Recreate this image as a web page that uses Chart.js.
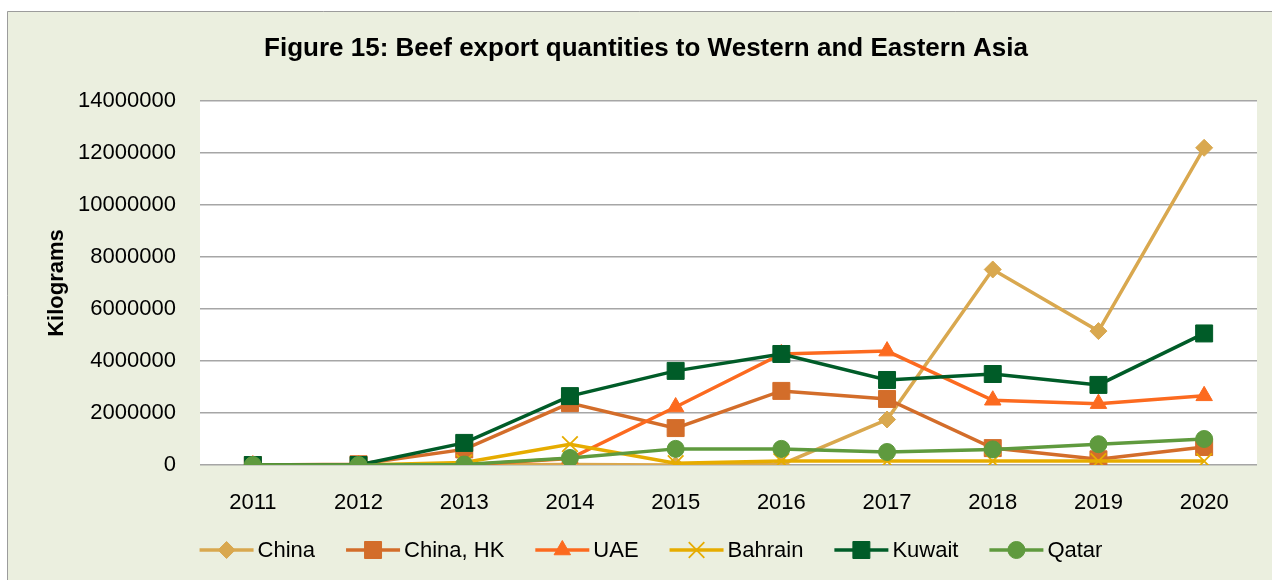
<!DOCTYPE html>
<html>
<head>
<meta charset="utf-8">
<title>Beef export quantities to Western and Eastern Asia</title>
<script src="https://cdn.jsdelivr.net/npm/chart.js@4.4.1/dist/chart.umd.min.js"></script>
<style>
  html, body { margin: 0; padding: 0; background: #ffffff; }
  #wrap { width: 1272px; height: 580px; }
</style>
</head>
<body>
<div id="wrap"><canvas id="beefChart" width="1272" height="580"></canvas></div>
<script>
// Chart values (kilograms)
const years = ['2011', '2012', '2013', '2014', '2015', '2016', '2017', '2018', '2019', '2020'];
const china   = [0, 0, 0, 20000, 0, 20000, 1750000, 7520000, 5150000, 12200000];
const chinaHK = [0, 30000, 600000, 2380000, 1420000, 2850000, 2540000, 650000, 220000, 690000];
const uae     = [0, 0, 0, 250000, 2230000, 4270000, 4380000, 2490000, 2360000, 2660000];
const bahrain = [0, 0, 100000, 800000, 70000, 150000, 150000, 150000, 150000, 150000];
const kuwait  = [0, 0, 850000, 2650000, 3620000, 4270000, 3270000, 3500000, 3080000, 5060000];
const qatar   = [0, 0, 20000, 270000, 620000, 620000, 500000, 600000, 800000, 1000000];
const yTicks  = [0, 2000000, 4000000, 6000000, 8000000, 10000000, 12000000, 14000000];

const FONT = "'Liberation Sans', Arial, sans-serif";

// one entry per series: name, values, colour, marker
function series(label, data, color, pointStyle, radius, order) {
  return {
    label: label,
    data: data,
    borderColor: color,
    backgroundColor: color,
    pointBackgroundColor: color,
    pointBorderColor: color,
    pointStyle: pointStyle,
    pointRadius: radius,
    pointHoverRadius: radius,
    pointBorderWidth: pointStyle === 'crossRot' ? 1.8 : 1,
    borderWidth: 3.5,
    tension: 0,
    order: order // Excel draws later series on top
  };
}

const datasets = [
  series('China',     china,   '#D9A84F', 'rectRot',  8.5, 5),
  series('China, HK', chinaHK, '#D36D2A', 'rect',     12,  4),
  series('UAE',       uae,     '#FC6A1F', 'triangle', 9.5, 3),
  series('Bahrain',   bahrain, '#E6AC00', 'crossRot', 11,  2),
  series('Kuwait',    kuwait,  '#005C28', 'rect',     12,  1),
  series('Qatar',     qatar,   '#5F9A3E', 'circle',   8.5, 0)
];

// page frame + white plot area
const framePlugin = {
  id: 'frame',
  beforeDraw(chart) {
    const ctx = chart.ctx;
    const a = chart.chartArea;
    ctx.save();
    ctx.fillStyle = '#ffffff';
    ctx.fillRect(0, 0, chart.width, chart.height);
    ctx.fillStyle = '#EBEFDF';
    ctx.fillRect(7, 11, chart.width - 7, chart.height - 11);
    ctx.strokeStyle = '#9c9c9c';
    ctx.lineWidth = 1;
    ctx.beginPath();
    ctx.moveTo(7.5, chart.height);
    ctx.lineTo(7.5, 11.5);
    ctx.lineTo(chart.width, 11.5);
    ctx.stroke();
    ctx.fillStyle = '#ffffff';
    ctx.fillRect(a.left, a.top, a.right - a.left, a.bottom - a.top);
    ctx.restore();
  }
};

// Excel-style legend: line segment with marker, then label
const legendPlugin = {
  id: 'excelLegend',
  afterDraw(chart) {
    const ctx = chart.ctx;
    const glyphW = 54, gapText = 4, gapItem = 31, cy = 550, centerX = 651;
    const font = '22px ' + FONT;
    ctx.save();
    ctx.font = font;
    const widths = chart.data.datasets.map(ds => ctx.measureText(ds.label).width);
    let total = 0;
    widths.forEach((w, i) => { total += glyphW + gapText + w + (i < widths.length - 1 ? gapItem : 0); });
    let x = centerX - total / 2;
    chart.data.datasets.forEach((ds, i) => {
      ctx.strokeStyle = ds.borderColor;
      ctx.lineWidth = ds.borderWidth;
      ctx.beginPath();
      ctx.moveTo(x, cy);
      ctx.lineTo(x + glyphW, cy);
      ctx.stroke();
      ctx.fillStyle = ds.pointBackgroundColor;
      ctx.strokeStyle = ds.pointBorderColor;
      ctx.lineWidth = ds.pointBorderWidth;
      Chart.helpers.drawPoint(ctx, {
        pointStyle: ds.pointStyle,
        radius: ds.pointRadius,
        rotation: 0,
        borderWidth: ds.pointBorderWidth
      }, x + glyphW / 2, cy);
      ctx.fillStyle = '#000000';
      ctx.textBaseline = 'middle';
      ctx.textAlign = 'left';
      ctx.font = font;
      ctx.fillText(ds.label, x + glyphW + gapText, cy + 1);
      x += glyphW + gapText + widths[i] + gapItem;
    });
    ctx.restore();
  }
};

const config = {
  type: 'line',
  data: { labels: years, datasets: datasets },
  plugins: [framePlugin, legendPlugin],
  options: {
    responsive: false,
    animation: false,
    layout: { padding: { left: 35, right: 15, top: 0, bottom: 0 } },
    plugins: {
      legend: { display: false },
      tooltip: { enabled: false },
      title: {
        display: true,
        text: 'Figure 15: Beef export quantities to Western and Eastern Asia',
        color: '#000000',
        font: { family: FONT, size: 26, weight: 'bold', lineHeight: 1.2 },
        padding: { top: 33, bottom: 36.8 }
      }
    },
    scales: {
      x: {
        offset: true,
        grid: { display: false },
        border: { display: false },
        ticks: {
          color: '#000000',
          font: { family: FONT, size: 22 },
          padding: 17,
          maxRotation: 0
        },
        afterFit: scale => { scale.height = 115; }
      },
      y: {
        min: 0,
        max: 14000000,
        afterBuildTicks: scale => { scale.ticks = yTicks.map(v => ({ value: v })); },
        grid: { color: '#A6A6A6', lineWidth: 1.5, drawTicks: false },
        border: { display: false },
        ticks: {
          color: '#000000',
          font: { family: FONT, size: 22 },
          padding: 24,
          callback: value => String(value)
        },
        title: {
          display: true,
          text: 'Kilograms',
          color: '#000000',
          font: { family: FONT, size: 22, weight: 'bold', lineHeight: 1.2 },
          padding: { top: 9, bottom: 0 }
        },
        afterFit: scale => { scale.width = 165; }
      }
    }
  }
};

new Chart(document.getElementById('beefChart').getContext('2d'), config);
</script>
</body>
</html>
